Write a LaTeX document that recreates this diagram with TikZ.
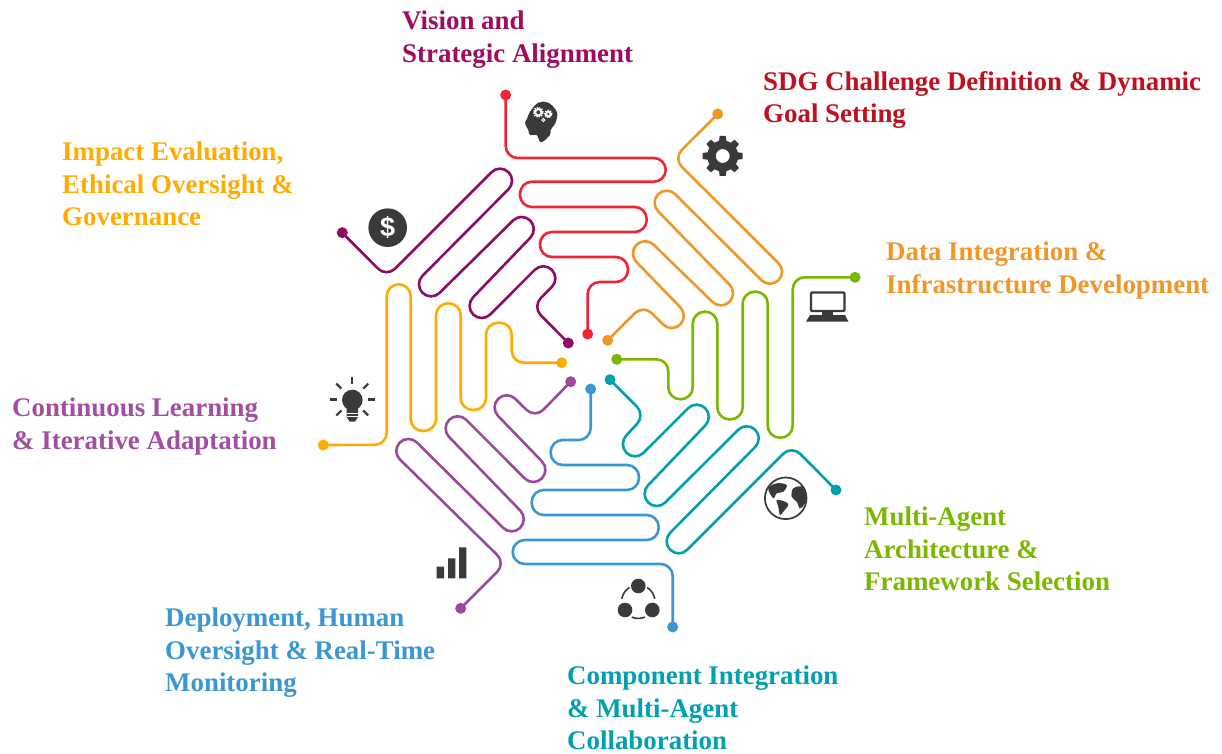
\documentclass[tikz,border=0pt]{standalone}
\usepackage{fontspec}
\setmainfont{Liberation Serif}
\definecolor{cRed}{HTML}{EE2535}
\definecolor{cOrange}{HTML}{F0972A}
\definecolor{cGreen}{HTML}{7AB800}
\definecolor{cTeal}{HTML}{00A0AE}
\definecolor{cBlue}{HTML}{3A97D3}
\definecolor{cPurple}{HTML}{9B4A9B}
\definecolor{cYellow}{HTML}{FFAB00}
\definecolor{cPlum}{HTML}{8E0B62}
\definecolor{cIcon}{HTML}{3A3A3A}
\definecolor{tVision}{HTML}{9E0B5F}
\definecolor{tSDG}{HTML}{C0101F}
\definecolor{tContinuous}{HTML}{A24FA2}
\tikzset{
  dot/.style={circle,minimum size=11pt,inner sep=0pt,draw=none},
  snakeline/.style={line width=2.6pt},
  lbl/.style={font=\bfseries\fontsize{26.9}{32.4}\selectfont,align=left,inner sep=0pt,anchor=north west},
  icon/.style={fill=cIcon,draw=none},
}
% one rounded corner at the vertex V, between the previous point P and the next point N
\newcommand\snCorner[2]{%
  \pgfmathsetmacro\snLa{veclen(\snPx-\snVx,\snPy-\snVy)}%
  \pgfmathsetmacro\snLb{veclen(#1-\snVx,#2-\snVy)}%
  \pgfmathsetmacro\snR{min(12,\snLa/2,\snLb/2)}%
  \pgfmathsetmacro\snAx{\snVx+\snR*(\snPx-\snVx)/\snLa}%
  \pgfmathsetmacro\snAy{\snVy+\snR*(\snPy-\snVy)/\snLa}%
  \pgfmathsetmacro\snBx{\snVx+\snR*(#1-\snVx)/\snLb}%
  \pgfmathsetmacro\snBy{\snVy+\snR*(#2-\snVy)/\snLb}%
  \pgfmathsetmacro\snCx{\snAx+0.55*(\snVx-\snAx)}%
  \pgfmathsetmacro\snCy{\snAy+0.55*(\snVy-\snAy)}%
  \pgfmathsetmacro\snDx{\snBx+0.55*(\snVx-\snBx)}%
  \pgfmathsetmacro\snDy{\snBy+0.55*(\snVy-\snBy)}%
  \xdef\snStr{\snStr -- (\snAx pt,\snAy pt) .. controls (\snCx pt,\snCy pt) and (\snDx pt,\snDy pt) .. (\snBx pt,\snBy pt)}%
}
% \snake{colour}{from node}{to node}{x/y,x/y,...}: the vertices between the two end dots
\newcommand\snake[4]{%
  \path (#2.center); \pgfgetlastxy{\snSx}{\snSy}%
  \path (#3.center); \pgfgetlastxy{\snEx}{\snEy}%
  \pgfmathsetmacro\snTx{\snSx+0}\pgfmathsetmacro\snTy{\snSy+0}%
  \global\let\snPx\snTx \global\let\snPy\snTy
  \global\let\snVx\relax
  \xdef\snStr{(#2.center)}%
  \foreach \sna/\snb in {#4}{%
    \pgfmathsetmacro\snNx{\sna}\pgfmathsetmacro\snNy{-(\snb)}%
    \ifx\snVx\relax\else
      \snCorner{\snNx}{\snNy}%
      \global\let\snPx\snVx \global\let\snPy\snVy
    \fi
    \global\let\snVx\snNx \global\let\snVy\snNy
  }%
  \pgfmathsetmacro\snNx{\snEx+0}\pgfmathsetmacro\snNy{\snEy+0}%
  \snCorner{\snNx}{\snNy}%
  \edef\snCmd{\noexpand\draw[snakeline,#1] \snStr -- (#3.center);}\snCmd
}
\begin{document}
\begin{tikzpicture}[x=1pt,y=-1pt]
\useasboundingbox (0,0) rectangle (1222,754);
\fill[white] (0,0) rectangle (1222,754);

% end dots
\node[dot,fill=cRed] (r1) at (505.7,95) {};
\node[dot,fill=cRed] (r2) at (587.7,334) {};
\node[dot,fill=cOrange] (o1) at (717.7,114) {};
\node[dot,fill=cOrange] (o2) at (607.7,340.3) {};
\node[dot,fill=cGreen] (g1) at (855,277.3) {};
\node[dot,fill=cGreen] (g2) at (616.7,359.3) {};
\node[dot,fill=cTeal] (t1) at (836,490) {};
\node[dot,fill=cTeal] (t2) at (610,379.7) {};
\node[dot,fill=cBlue] (b1) at (672.7,627) {};
\node[dot,fill=cBlue] (b2) at (590.7,389) {};
\node[dot,fill=cPurple] (p1) at (460.7,608.3) {};
\node[dot,fill=cPurple] (p2) at (570.7,381.7) {};
\node[dot,fill=cYellow] (y1) at (323.3,445) {};
\node[dot,fill=cYellow] (y2) at (561.7,362.7) {};
\node[dot,fill=cPlum] (m1) at (342.3,232.7) {};
\node[dot,fill=cPlum] (m2) at (568.3,343) {};

% serpentine lines
\snake{cRed}{r1}{r2}{505.7/158,665.7/158,665.7/181.7,520/181.7,520/207,646.7/207,646.7/232,540/232,540/257,628/257,628/282,587.7/282}
\snake{cOrange}{o1}{o2}{673.3/158.3,787/271.7,770/288.7,666.7/185.7,649.7/202.7,738/293.3,721/310.3,645/236.3,628/253.3,688.7/316,671.7/333,643.3/304.7}
\snake{cGreen}{g2}{g1}{668.3/359.3,668.3/399.3,692.7/399.3,692.7/311.7,717.3/311.7,717.3/419.3,742.7/419.3,742.7/291.7,767.7/291.7,767.7/437.7,792.7/437.7,792.7/277.3}
\snake{cTeal}{t2}{t1}{645.3/415,618/444.3,635/461.3,696.7/399.7,713.7/416.7,639.7/494,656.7/511,746.7/421.3,763.7/438.3,661.7/541.3,678.7/558.3,791.7/445.3}
\snake{cBlue}{b2}{b1}{590.7/440,550.7/440,550.7/465,639/465,639/490,531.7/490,531.7/515,658.7/515,658.7/540,512.7/540,512.7/564,672.7/564}
\snake{cPurple}{p2}{p1}{535/418.3,506.7/390.3,489.7/407.3,550.3/470,533.3/487,457.7/411.3,440.7/428.3,528.7/519.3,511.7/536.3,408.3/434,391.3/451,505.7/563.3}
\snake{cYellow}{y2}{y1}{511.7/362.7,511.7/322.7,486/322.7,486/410,460.7/410,460.7/303.3,436/303.3,436/431,410.7/431,410.7/284.3,386.7/284.3,386.7/444.8}
\snake{cPlum}{m2}{m1}{532.3/306.7,560.3/278.3,543.3/261.3,481.7/323,464.7/306,538.7/229,521.7/212,431/301.3,414/284.3,517/180.7,500/163.7,386.5/277.2}

% labels
\node[lbl,text=tVision] (lVision) at (402,11) {Vision and\\Strategic Alignment};
\node[lbl,text=tSDG] (lSDG) at (763,71) {SDG Challenge Definition \& Dynamic\\Goal Setting};
\node[lbl,text=cYellow] (lImpact) at (62,142) {Impact Evaluation,\\Ethical Oversight \&\\Governance};
\node[lbl,text=cOrange] (lData) at (886,242) {Data Integration \&\\Infrastructure Development};
\node[lbl,text=tContinuous] (lCont) at (12,398) {Continuous Learning\\\& Iterative Adaptation};
\node[lbl,text=cBlue] (lDeploy) at (165,608) {Deployment, Human\\Oversight \& Real-Time\\Monitoring};
\node[lbl,text=cTeal] (lComp) at (567,666) {Component Integration\\\& Multi-Agent\\Collaboration};
\node[lbl,text=cGreen] (lMulti) at (864,507) {Multi-Agent\\Architecture \&\\Framework Selection};

% head icon
\fill[icon] plot[smooth cycle,tension=0.6] coordinates {(530,111.7) (538.3,102.7) (548.3,102.7) (556.7,111.7) (556,121.7) (550.7,130) (550,135) (541,142.3) (536.7,135) (530,135) (528.3,130) (525,123.3) (527.3,118.3)};
\draw[white,line width=2pt] (538.3,112.3) circle[radius=3.2pt] (548.3,114) circle[radius=2.3pt];
\draw[white,line width=1.4pt,dash pattern=on 1.3pt off 1.2pt] (538.3,112.3) circle[radius=4.8pt] (548.3,114) circle[radius=3.6pt];
\draw[white,line width=1pt] (543.3,120) circle[radius=1.6pt];

% gear icon
\foreach \a in {0,45,...,315}
  \fill[icon,shift={(722.7,156)},rotate=\a] (-4,-13) -- (-3,-20) -- (3,-20) -- (4,-13) -- cycle;
\fill[icon,even odd rule] (722.7,156) circle[radius=15.5pt] (722.7,156) circle[radius=7pt];

% dollar icon
\node[circle,fill=cIcon,minimum size=38.6pt,inner sep=0pt,text=white,font=\fontspec{Liberation Sans}\bfseries\fontsize{27}{27}\selectfont] (dollar) at (387.7,227.7) {\$};

% laptop icon
\draw[cIcon,line width=2.4pt,rounded corners=1pt] (811,292.5) rectangle (844.5,311);
\fill[icon] (821.7,311) rectangle (833.3,316);
\fill[icon] (810,315) -- (845,315) -- (848.5,321.7) -- (806,321.7) -- cycle;

% globe icon
\draw[cIcon,line width=1.7pt] (785.7,498.3) circle[radius=20.8pt];
\fill[icon] plot[smooth cycle,tension=0.6] coordinates {(768.3,488.3) (776.7,483.3) (786.7,485) (783.3,491.7) (776.7,493.3) (773.3,498.3)};
\fill[icon] plot[smooth cycle,tension=0.6] coordinates {(776.7,500) (785,501.7) (788.3,505) (783.3,511.7) (780,515) (778.3,506.7)};
\fill[icon] plot[smooth cycle,tension=0.6] coordinates {(793.3,488.3) (803.3,486.7) (806.7,495) (805,503.3) (800,508.3) (796.7,501.7) (791.7,496.7)};

% bars icon
\fill[icon] (436.7,566.7) rectangle (444,578.3) (448,558.3) rectangle (455.3,578.3) (459,547.3) rectangle (466.3,578.3);

% three circles icon
\fill[icon] (638.3,586) circle[radius=7.3pt] (625,610) circle[radius=7.3pt] (652.3,610) circle[radius=7.3pt];
\draw[cIcon,line width=1.6pt] plot[domain=-58:-10,samples=8] ({638.3+16.7*cos(\x)},{601.7+16.7*sin(\x)});
\draw[cIcon,line width=1.6pt] plot[domain=190:238,samples=8] ({638.3+16.7*cos(\x)},{601.7+16.7*sin(\x)});
\draw[cIcon,line width=1.6pt] plot[domain=67:113,samples=8] ({638.3+16.7*cos(\x)},{601.7+16.7*sin(\x)});

% bulb icon
\fill[icon] (352.3,400) circle[radius=10.3pt];
\fill[icon] (346.7,404) -- (358,404) -- (358,417) -- (355,421.5) -- (349.5,421.5) -- (346.7,417) -- cycle;
\draw[white,line width=0.8pt] (346.7,413) -- (358,413) (346.7,416.5) -- (358,416.5);
\foreach \a in {0,45,90,135,180,225,315}
  \draw[cIcon,line width=2.2pt] ({352.3+15.5*cos(\a)},{399.5-15.5*sin(\a)}) -- ({352.3+22.5*cos(\a)},{399.5-22.5*sin(\a)});
\end{tikzpicture}
\end{document}
